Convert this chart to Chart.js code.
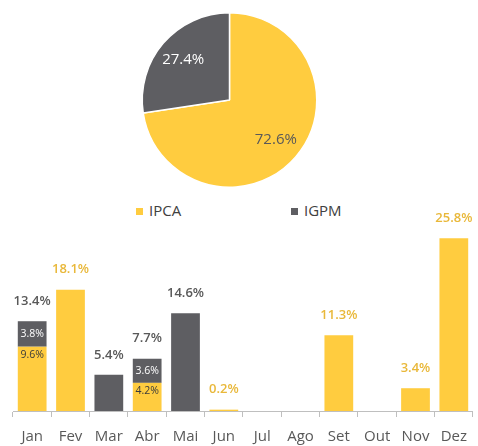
<!DOCTYPE html>
<html lang="pt">
  <head>
    <title>IPCA x IGPM</title>
    <meta charset="utf-8" />
    <style>
      body { margin: 0; width: 478px; height: 446px; background: #fff; font-family: "Open Sans", sans-serif; position: relative; overflow: hidden; }
      #pieBox { position: absolute; left: 0; top: 0; width: 478px; height: 200px; }
      #barBox { position: absolute; left: 0; top: 200px; width: 478px; height: 257px; }
      #legenda { position: absolute; top: 200px; left: 0; width: 478px; height: 20px; font-size: 15px; color: #404040; }
      .item { position: absolute; top: 0; line-height: 20px; }
      .item span { display: inline-block; width: 7px; height: 7px; margin-right: 6px; vertical-align: 1px; }
    </style>
  </head>
  <body>
    <div id="pieBox"><canvas id="pizza"></canvas></div>
    <div id="legenda"></div>
    <div id="barBox"><canvas id="barras"></canvas></div>

    <script src="https://cdn.jsdelivr.net/npm/chart.js"></script>
    <script>
      const series = ["IPCA", "IGPM"];
      const shares = [72.6, 27.4];
      const months = ["Jan", "Fev", "Mar", "Abr", "Mai", "Jun", "Jul", "Ago", "Set", "Out", "Nov", "Dez"];
      const ipca = [9.6, 18.1, null, 4.2, null, 0.2, null, null, 11.3, null, 3.4, 25.8];
      const igpm = [3.8, null, 5.4, 3.6, 14.6, null, null, null, null, null, null, null];
      const totals = [13.4, 18.1, 5.4, 7.7, 14.6, 0.2, null, null, 11.3, null, 3.4, 25.8];

      const amarelo = "#ffcc3f";
      const cinza = "#5e5e62";
      const dourado = "#e9b83a";
      const texto = "#595959";
      const fonte = '"Open Sans", sans-serif';

      function fmt(v) {
        return v.toFixed(1) + "%";
      }

      // legend
      const legendX = [136, 291];
      series.forEach((nome, i) => {
        const d = document.createElement("div");
        d.className = "item";
        d.style.left = legendX[i] + "px";
        d.innerHTML = `<span style="background:${[amarelo, cinza][i]}"></span>${nome}`;
        document.querySelector("#legenda").appendChild(d);
      });

      const rotulosPizza = {
        id: "rotulosPizza",
        afterDatasetsDraw(chart) {
          const ctx = chart.ctx;
          const cores = ["#595959", "#ffffff"];
          chart.getDatasetMeta(0).data.forEach((arc, i) => {
            const mid = (arc.startAngle + arc.endAngle) / 2;
            const r = arc.outerRadius * 0.7;
            ctx.save();
            ctx.font = "15px " + fonte;
            ctx.fillStyle = cores[i];
            ctx.textAlign = "center";
            ctx.textBaseline = "middle";
            ctx.fillText(fmt(shares[i]), arc.x + Math.cos(mid) * r, arc.y + Math.sin(mid) * r);
            ctx.restore();
          });
        },
      };

      new Chart(document.querySelector("#pizza"), {
        type: "pie",
        data: {
          labels: series,
          datasets: [
            {
              data: shares,
              backgroundColor: [amarelo, cinza],
              borderColor: "#ffffff",
              borderWidth: 1.5,
            },
          ],
        },
        options: {
          responsive: true,
          maintainAspectRatio: false,
          animation: false,
          layout: { padding: { top: 12, bottom: 12, left: 0, right: 19 } },
          plugins: { legend: { display: false }, tooltip: { enabled: false } },
        },
        plugins: [rotulosPizza],
      });

      const rotulosBarras = {
        id: "rotulosBarras",
        afterDatasetsDraw(chart) {
          const ctx = chart.ctx;
          const m0 = chart.getDatasetMeta(0).data;
          const m1 = chart.getDatasetMeta(1).data;
          ctx.save();
          ctx.textAlign = "center";
          ctx.textBaseline = "middle";
          months.forEach((mes, i) => {
            if (totals[i] === null) return;
            const stacked = ipca[i] !== null && igpm[i] !== null;
            if (stacked) {
              ctx.font = "10.5px " + fonte;
              ctx.fillStyle = "#3a3a3a";
              ctx.fillText(fmt(ipca[i]), m0[i].x, Math.min((m0[i].y + m0[i].base) / 2 + 1, m0[i].y + 8));
              ctx.fillStyle = "#ffffff";
              ctx.fillText(fmt(igpm[i]), m1[i].x, (m1[i].y + m1[i].base) / 2);
            }
            const topo = igpm[i] !== null ? m1[i] : m0[i];
            ctx.font = "600 13px " + fonte;
            ctx.fillStyle = igpm[i] !== null ? texto : dourado;
            ctx.fillText(fmt(totals[i]), topo.x, topo.y - 20);
          });
          ctx.restore();
        },
      };

      new Chart(document.querySelector("#barras"), {
        type: "bar",
        data: {
          labels: months,
          datasets: [
            { label: "IPCA", data: ipca, backgroundColor: amarelo, categoryPercentage: 1, barPercentage: 0.75 },
            { label: "IGPM", data: igpm, backgroundColor: cinza, categoryPercentage: 1, barPercentage: 0.75 },
          ],
        },
        options: {
          responsive: true,
          maintainAspectRatio: false,
          animation: false,
          layout: { padding: { top: 10, left: 13, right: 0, bottom: 0 } },
          plugins: { legend: { display: false }, tooltip: { enabled: false } },
          scales: {
            x: {
              stacked: true,
              grid: { display: true, drawOnChartArea: false, drawTicks: true, tickLength: 6, color: "#bfbfbf", offset: true },
              border: { display: true, color: "#bfbfbf" },
              ticks: { color: texto, font: { family: fonte, size: 15 }, padding: 11, maxRotation: 0, autoSkip: false },
            },
            y: {
              stacked: true,
              display: false,
              min: 0,
              max: 30,
            },
          },
        },
        plugins: [rotulosBarras],
      });
    </script>
  </body>
</html>
